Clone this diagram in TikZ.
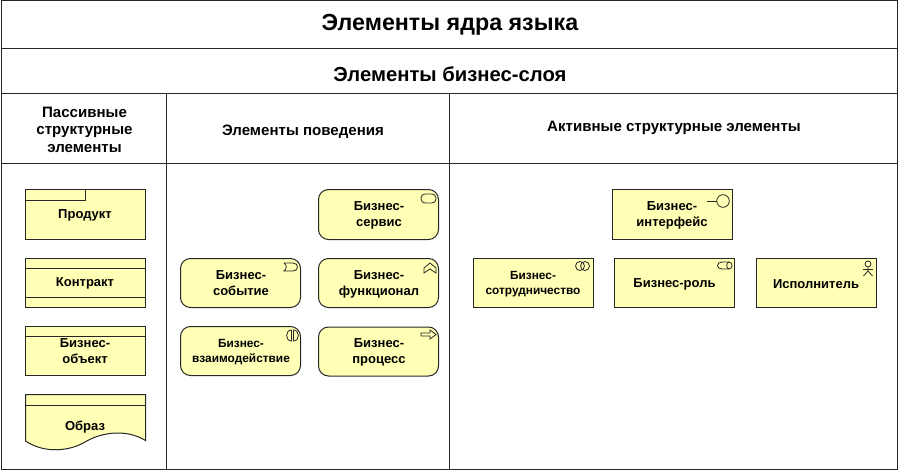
\documentclass[tikz,border=0pt]{standalone}
\usepackage{fontspec}
\setmainfont{Liberation Sans}
\usepackage{tikz}
\definecolor{elemfill}{RGB}{255,255,181}
\tikzset{
  cell/.style={draw=black!85, rectangle, line width=0.75pt, inner sep=0pt, outer sep=0pt},
  elem/.style={draw=black!85, rectangle, fill=elemfill, line width=0.75pt, inner sep=0pt, outer sep=0pt, minimum width=90pt, minimum height=37.5pt},
  shortelem/.style={minimum height=36.75pt},
  roundelem/.style={elem, rounded corners=7.5pt},
  label/.style={inner sep=0pt, font=\bfseries\fontsize{9.75}{12}\selectfont},
  smalllabel/.style={inner sep=0pt, font=\bfseries\fontsize{8.9}{11.5}\selectfont},
  line/.style={draw=black!85, line width=0.75pt},
  icon/.style={draw=black!85, line width=0.6pt},
  heading/.style={font=\bfseries\fontsize{11.3}{13}\selectfont}
}
\begin{document}
\begin{tikzpicture}[x=0.75pt, y=-0.75pt]
    \useasboundingbox (0, 0) rectangle (899, 471);
    % table
    \node[cell, minimum width=672pt, minimum height=36pt] (core) at (449.5, 24.5) {};
    \node[inner sep=0pt, font=\bfseries\fontsize{17.45}{20}\selectfont] (coretext) at (450, 25) {Элементы ядра языка};
    \node[cell, minimum width=672pt, minimum height=33.75pt] (layer) at (449.5, 71) {};
    \node[inner sep=0pt, font=\bfseries\fontsize{15.2}{18}\selectfont] (layertext) at (450, 74) {Элементы бизнес-слоя};
    \node[cell, minimum width=123.75pt, minimum height=52.5pt] (passive) at (84, 128.5) {};
    \node[heading, inner sep=0pt] (passivetext) at (84.5, 131.5) {\begin{tabular}{c}Пассивные\\структурные\\элементы\end{tabular}};
    \node[cell, minimum width=212.25pt, minimum height=52.5pt] (behaviour) at (308, 128.5) {};
    \node[heading, inner sep=0pt] (behaviourtext) at (303, 132) {Элементы поведения};
    \node[cell, minimum width=336pt, minimum height=52.5pt] (active) at (673.5, 128.5) {};
    \node[heading, inner sep=0pt] (activetext) at (674, 128) {Активные структурные элементы};
    \node[cell, minimum width=123.75pt, minimum height=229.5pt] (passivebody) at (84, 316.5) {};
    \node[cell, minimum width=212.25pt, minimum height=229.5pt] (behaviourbody) at (308, 316.5) {};
    \node[cell, minimum width=336pt, minimum height=229.5pt] (activebody) at (673.5, 316.5) {};
    % passive elements
    \node[elem] (product) at (85.5, 214.5) {};
    \node[label] (productlabel) at (85, 215) {Продукт};
    \draw[line] (25.5, 200.5) -- (85.5, 200.5) -- (85.5, 189.5);
    \node[elem, shortelem] (contract) at (85.5, 283) {};
    \node[label] (contractlabel) at (85, 283.5) {Контракт};
    \draw[line] (25.5, 268.5) -- (145.5, 268.5);
    \draw[line] (25.5, 297) -- (145.5, 297);
    \node[elem, shortelem] (object) at (85.5, 351) {};
    \node[label] (objectlabel) at (85, 352.5) {\begin{tabular}{c}Бизнес-\\объект\end{tabular}};
    \draw[line] (25.5, 336.5) -- (145.5, 336.5);
    \draw[line, fill=elemfill] (25.5, 394.5) -- (145.5, 394.5) -- (145.5, 440.5) .. controls (125, 428) and (100, 433) .. (85, 442) .. controls (70, 451) and (45, 454) .. (25.5, 441) -- cycle;
    \draw[line] (25.5, 405.5) -- (145.5, 405.5);
    \node[label] (image) at (85, 427) {Образ};
    % behaviour elements
    \node[roundelem, shortelem] (event) at (240.5, 283) {};
    \node[label] (eventlabel) at (241, 284) {\begin{tabular}{c}Бизнес-\\событие\end{tabular}};
    \node[roundelem, shortelem] (interaction) at (240.5, 351) {};
    \node[smalllabel] (interactionlabel) at (241, 352) {\begin{tabular}{c}Бизнес-\\взаимодействие\end{tabular}};
    \node[roundelem] (service) at (378.5, 214.5) {};
    \node[label] (servicelabel) at (379, 215) {\begin{tabular}{c}Бизнес-\\сервис\end{tabular}};
    \node[roundelem, shortelem] (function) at (378.5, 283) {};
    \node[label] (functionlabel) at (379, 284) {\begin{tabular}{c}Бизнес-\\функционал\end{tabular}};
    \node[roundelem, shortelem] (process) at (378.5, 351.5) {};
    \node[label] (processlabel) at (379, 352.5) {\begin{tabular}{c}Бизнес-\\процесс\end{tabular}};
    % active elements
    \node[elem] (interface) at (672.5, 214.5) {};
    \node[label] (interfacelabel) at (672, 215) {\begin{tabular}{c}Бизнес-\\интерфейс\end{tabular}};
    \node[elem, shortelem] (collaboration) at (533.5, 283) {};
    \node[smalllabel] (collaborationlabel) at (533, 284) {\begin{tabular}{c}Бизнес-\\сотрудничество\end{tabular}};
    \node[elem, shortelem] (role) at (674.5, 283) {};
    \node[label] (rolelabel) at (674.5, 284) {Бизнес-роль};
    \node[elem, shortelem] (actor) at (816.5, 283) {};
    \node[label] (actorlabel) at (816, 284) {Исполнитель};
    % icons
    \draw[icon, rounded corners=3pt] (421, 194) rectangle (436, 203);
    \draw[icon] (424, 268) -- (430, 263) -- (436, 268) -- (436, 273) -- (430, 269) -- (424, 273) -- cycle;
    \draw[icon] (421, 333) -- (430, 333) -- (430, 330) -- (436, 334.5) -- (430, 339) -- (430, 336) -- (421, 336) -- cycle;
    \draw[icon] (284, 263) -- (293, 263) .. controls (299, 263) and (299, 271) .. (293, 271) -- (284, 271) .. controls (287, 269) and (287, 265) .. (284, 263);
    \draw[icon] (291.5, 330) .. controls (285, 330) and (285, 341) .. (291.5, 341) -- cycle;
    \draw[icon] (293.5, 330) .. controls (300, 330) and (300, 341) .. (293.5, 341) -- cycle;
    \draw[icon] (580, 266) circle (4.5);
    \draw[icon] (585, 266) circle (4.5);
    \draw[icon] (723, 201) circle (6.3);
    \draw[icon] (707, 201) -- (716.7, 201);
    \draw[icon] (722, 262) -- (729, 262) .. controls (733, 262) and (733, 269) .. (729, 269) -- (722, 269) .. controls (716, 269) and (716, 262) .. (722, 262);
    \draw[icon] (729, 262) .. controls (726, 262) and (726, 269) .. (729, 269);
    \draw[icon] (868, 264) circle (3);
    \draw[icon] (868, 267) -- (868, 271) -- (863.5, 276);
    \draw[icon] (868, 271) -- (872.5, 276);
    \draw[icon] (863, 269) -- (873, 269);
\end{tikzpicture}
\end{document}
